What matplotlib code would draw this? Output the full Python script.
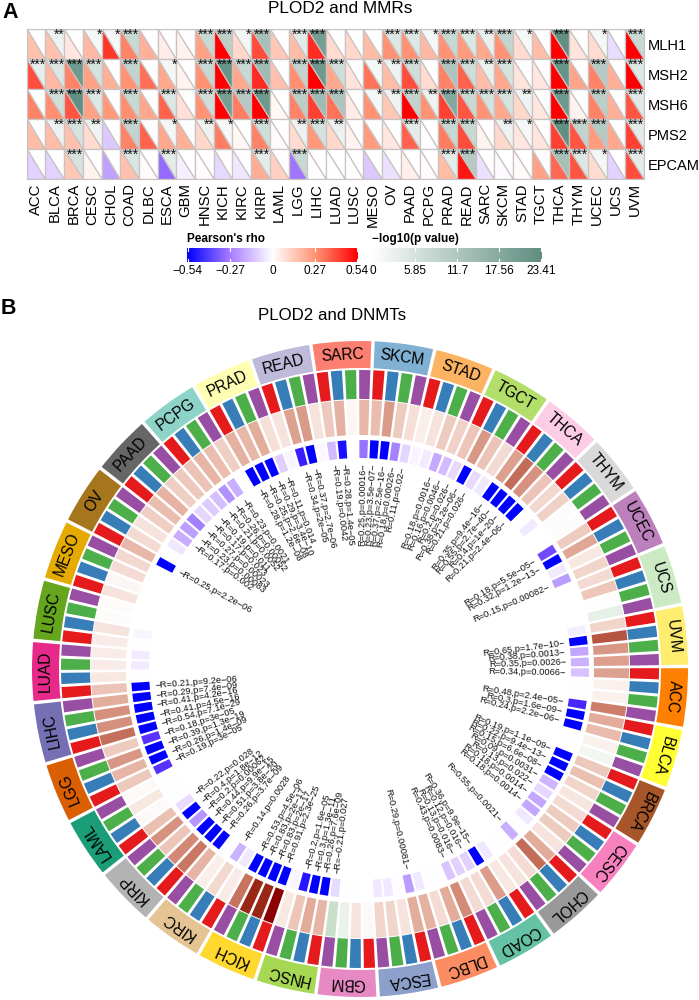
import numpy as np
from matplotlib import pyplot as plt
from matplotlib.colors import LinearSegmentedColormap

plt.rcParams['font.family'] = ['Liberation Sans', 'DejaVu Sans']

W, H = 699, 1000

# panel A
mmr_genes = ['MLH1', 'MSH2', 'MSH6', 'PMS2', 'EPCAM']
mmr_cancers = ['ACC', 'BLCA', 'BRCA', 'CESC', 'CHOL', 'COAD', 'DLBC', 'ESCA', 'GBM',
               'HNSC', 'KICH', 'KIRC', 'KIRP', 'LAML', 'LGG', 'LIHC', 'LUAD', 'LUSC',
               'MESO', 'OV', 'PAAD', 'PCPG', 'PRAD', 'READ', 'SARC', 'SKCM', 'STAD',
               'TGCT', 'THCA', 'THYM', 'UCEC', 'UCS', 'UVM']
mmr_rho = [
    [.16, .40, .30, .17, -.09], [.16, .18, .28, .17, -.09], [.06, .30, .38, .16, .14],
    [.18, .24, .24, .09, .03], [.44, .20, .26, -.11, -.19], [.30, .27, .28, .30, .16],
    [.20, .34, .22, .36, .01], [.05, .22, .36, .22, -.30], [.03, .03, .08, .20, -.03],
    [.24, .27, .27, .10, .01], [.54, .54, .54, .31, -.08], [.10, .22, .31, .02, -.05],
    [.40, .46, .54, .30, .21], [.14, .16, .02, .01, .12], [.17, .28, .30, .09, -.28],
    [.46, .54, .42, .26, .00], [.09, .22, .33, .10, .00], [.10, .07, .05, .03, .00],
    [.17, .33, .27, .25, -.11], [.27, .17, .14, .06, -.06], [.27, .40, .54, .36, .04],
    [.18, .09, .27, .00, .01], [.27, .30, .42, .31, .17], [.25, .36, .38, .40, .50],
    [.22, .17, .27, .03, -.06], [.27, .22, .22, .10, -.01], [.09, .07, .10, .06, .01],
    [.17, .06, .06, .07, .24], [.54, .54, .54, .42, .35], [.07, .23, .03, .38, .38],
    [.09, .30, .30, .25, .09], [-.07, .20, .20, .22, -.09], [.54, .54, .38, .42, .40],
]
mmr_logp = [
    [.3, 3.5, .3, .5, .2], [2.5, 5, 7, 2.5, .3], [.5, 21, 23, 6, 6],
    [1.6, 6, 5, 2.3, .1], [1.5, .3, .2, .1, .3], [8, 9, 8, 9, 5.5],
    [.3, .3, .3, .3, .1], [.3, 1.7, 5, 1.7, 4], [.2, .2, .2, .4, .1],
    [8, 8, 7, 2.5, 0], [10, 22, 20, 1.5, .2], [2, 8, 11, .2, .2],
    [13, 14, 21, 7, 4], [.2, .2, .1, .1, .2], [4, 9, 10, 2.5, 8],
    [20, 21, 14, 6, 0], [.3, 7, 12, 2.7, 0], [.3, .2, .1, .1, 0],
    [.3, 1.6, 1.6, .2, .1], [5, 2.5, 2.5, .1, .2], [5, 7, 9, 4, .1],
    [1.5, .2, 2.5, .1, 0], [8, 12, 18, 8, 4], [5, 7, 8, 8, 11],
    [3, 3, 6, .1, .2], [9, 6, 6, 2.5, .1], [1.5, .5, 2.5, 1.5, 0],
    [.3, .2, .2, .2, .5], [23, 22, 21, 23, 13], [.1, .2, .1, 9, 5],
    [1.6, 11, 10, 11, 1.7], [.1, .2, .2, .3, .1], [8, 5, 4.5, 4, 4],
]
mmr_stars = [
    ['', '***', '', '', ''], ['**', '***', '***', '**', ''], ['', '***', '***', '***', '***'],
    ['*', '***', '***', '**', ''], ['*', '', '', '', ''], ['***', '***', '***', '***', '***'],
    ['', '', '', '', ''], ['', '*', '***', '*', '***'], ['', '', '', '', ''],
    ['***', '***', '***', '**', ''], ['***', '***', '***', '*', ''], ['*', '***', '***', '', ''],
    ['***', '***', '***', '***', '***'], ['', '', '', '', ''], ['***', '***', '***', '**', '***'],
    ['***', '***', '***', '***', ''], ['', '***', '***', '**', ''], ['', '', '', '', ''],
    ['', '*', '*', '', ''], ['***', '**', '**', '', ''], ['***', '***', '***', '***', ''],
    ['*', '', '**', '', ''], ['***', '***', '***', '***', '***'], ['***', '***', '***', '***', '***'],
    ['**', '**', '***', '', ''], ['***', '***', '***', '**', ''], ['*', '', '**', '*', ''],
    ['', '', '', '', ''], ['***', '***', '***', '***', '***'], ['', '', '', '***', '***'],
    ['*', '***', '***', '***', '*'], ['', '', '', '', ''], ['***', '***', '***', '***', '***'],
]
rho_ticks = [-0.54, -0.27, 0, 0.27, 0.54]
logp_ticks = [0, 5.85, 11.7, 17.56, 23.41]

# panel B, clockwise from ACC. each cancer has four tracks
dnmt_cancers = mmr_cancers
cancer_colors = ['#FF7F00', '#FFFF33', '#A65628', '#F781BF', '#999999', '#66C2A5', '#FC8D62',
                 '#8DA0CB', '#E78AC3', '#A6D854', '#FFD92F', '#E5C494', '#B3B3B3', '#1B9E77',
                 '#D95F02', '#7570B3', '#E7298A', '#66A61E', '#E6AB02', '#A6761D', '#666666',
                 '#8DD3C7', '#FFFFB3', '#BEBADA', '#FB8072', '#80B1D3', '#FDB462', '#B3DE69',
                 '#FCCDE5', '#D9D9D9', '#BC80BD', '#CCEBC5', '#FFED6F']
track_colors = ['#E41A1C', '#377EB8', '#4DAF4A', '#984EA3']
dnmt_r = [
    [.34, .05, .05, .48], [.3, .24, .05, -.05], [.19, .22, .15, .09], [.13, .18, .18, .1],
    [.3, .55, .12, .1], [.08, .36, .12, .13], [.43, .3, .12, .28], [.29, .1, .15, .15],
    [.02, .1, -.08, -.21], [.26, .3, .2, .08], [.91, .83, .83, .53], [.07, .14, .06, .26],
    [.51, .44, .2, .4], [.22, .02, .08, .02], [.19, .26, .39, .18], [.54, .41, .41, .29],
    [.21, .08, .07, .07], [.07, .1, .01, .01], [.1, .03, .12, .14], [.25, .13, .1, .17],
    [.23, .27, .17, .19], [.21, .26, .23, .17], [.28, .25, .29, .11], [.1, .34, .37, .1],
    [.19, .28, .03, .25], [.23, .37, .18, .11], [.06, .1, .18, .16], [.2, .38, .21, .13],
    [.35, .55, .4, .21], [.14, .16, .01, .01], [.18, .32, .08, .15], [.13, .2, -.01, -.1],
    [.15, .65, .38, .35],
]
dnmt_p = [
    [.0066, .9, .9, 2.4e-05], [1.6e-09, 2.2e-06, .9, .9], [1.1e-09, 9.4e-13, 6.6e-08, .0031],
    [.022, .0014, .0014, .07], [.8, .0021, .8, .8], [.07, 9.9e-15, .016, .016],
    [.0083, .8, .8, .08], [.00081, .9, .07, .07], [1, .9, .9, .027],
    [7.6e-09, 1.3e-11, 1.6e-05, .3], [2.3e-25, 2e-17, 2e-17, 4.5e-06], [.07, .0028, .8, 3.7e-09],
    [3.8e-20, 9.9e-15, .00062, 1.8e-12], [.028, .9, .9, .9], [3e-05, 1.4e-09, 1.3e-19, 3e-05],
    [7.1e-29, 4.5e-16, 4.2e-16, 7.4e-09], [9.2e-06, .9, .1, .1], [.8, .3, 1, 1],
    [1, 1, 1, 1], [2.2e-06, .9, .07, .002], [.00083, .00023, .023, .011],
    [.0052, .00052, .0021, .9], [1.2e-08, 2.6e-08, 3.4e-10, .014], [.3, 2e-05, 2.7e-06, .4],
    [.0042, 1.4e-05, 1, .00016], [3.5e-07, 2.5e-16, .00026, .02], [.3, .1, .0016, .0046],
    [.026, 3.2e-06, .026, .07], [9.4e-16, 2.7e-40, 1e-20, 2.4e-06], [.9, .08, 1, 1],
    [5.5e-05, 1.2e-13, .09, .00082], [1, 1, 1, 1], [.15, 1.7e-10, .0013, .0026],
]

rho_cmap = LinearSegmentedColormap.from_list(
    'rho', ['#0000FF', '#A77BFF', '#FFFFFF', '#FF9575', '#FF0000'])
logp_cmap = LinearSegmentedColormap.from_list(
    'logp', ['#FFFFFF', '#AFC7BE', '#5F8D80'])
heat_cmap = LinearSegmentedColormap.from_list(
    'heat', [(0, '#006400'), (.5, '#FFFFFF'), (.625, '#E8B8A8'), (.75, '#CB7A66'),
             (.915, '#9A2A18'), (.955, '#8B0000'), (1, '#8B0000')])
pval_cmap = LinearSegmentedColormap.from_list(
    'pval', [(0, '#FFFFFF'), (.26, '#EEE5FF'), (.4, '#DCC8FF'), (.6, '#BFA2FF'),
             (.74, '#A07CFF'), (.9, '#6035FF'), (1, '#0000FF')])


def px_axes(left, top, right, bottom, **kwargs):
    return fig.add_axes([left / W, 1 - bottom / H, (right - left) / W, (bottom - top) / H], **kwargs)


def colorbar(left, right, cmap, ticks, pad, title, title_x):
    ax = px_axes(left, 248, right, 262)
    vmin, vmax = ticks[0] - pad, ticks[-1] + pad
    grad = np.linspace(ticks[0], ticks[-1], 256).reshape(1, -1)
    ax.imshow(grad, cmap=cmap, aspect='auto', extent=[vmin, vmax, 0, 1])
    for t in ticks:
        ax.plot([t, t], [0, .18], color='white', lw=.8)
        ax.plot([t, t], [.82, 1], color='white', lw=.8)
    ax.set_xlim(vmin, vmax)
    ax.set_ylim(0, 1)
    ax.set_yticks([])
    ax.set_xticks(ticks)
    ax.set_xticklabels([str(t).replace('-', '\u2212') for t in ticks], fontsize=8.5)
    ax.tick_params(length=0, pad=2)
    for s in ax.spines.values():
        s.set_visible(False)
    fig.text(title_x / W, 1 - 239 / H, title, fontsize=8.5, fontweight='bold', va='center')


fig = plt.figure(figsize=(W / 100, H / 100), dpi=100)

# A: triangle heatmap
ax = px_axes(26.7, 29, 644, 179)
grid = '#C9C2C2'
for c in range(len(mmr_cancers)):
    for r in range(len(mmr_genes)):
        rho_col = rho_cmap((mmr_rho[c][r] + .54) / 1.08)
        p_col = logp_cmap(mmr_logp[c][r] / 23.41)
        ax.fill([c, c, c + 1], [r, r + 1, r + 1], facecolor=rho_col, edgecolor=grid, lw=.9)
        ax.fill([c, c + 1, c + 1], [r, r, r + 1], facecolor=p_col, edgecolor=grid, lw=.9)
        if mmr_stars[c][r]:
            ax.text(c + 1.02, r - .03, mmr_stars[c][r], ha='right', va='top', fontsize=10,
                    color='#111111')
ax.set_xlim(0, len(mmr_cancers))
ax.set_ylim(len(mmr_genes), 0)
ax.set_xticks(np.arange(len(mmr_cancers)) + .5)
ax.set_xticklabels(mmr_cancers, rotation=90, fontsize=10.7)
ax.yaxis.tick_right()
ax.set_yticks(np.arange(len(mmr_genes)) + .5)
ax.set_yticklabels(mmr_genes, fontsize=10.5)
ax.tick_params(length=0, pad=3)
for s in ax.spines.values():
    s.set_color(grid)

fig.text(340 / W, 1 - 8.5 / H, 'PLOD2 and MMRs', fontsize=12.4, ha='center', va='center')
fig.text(2 / W, 1 - 12 / H, 'A', fontsize=15.5, fontweight='bold', va='center')
fig.text(1 / W, 1 - 309 / H, 'B', fontsize=15.5, fontweight='bold', va='center')
fig.text(332.5 / W, 1 - 315 / H, 'PLOD2 and DNMTs', fontsize=12.2, ha='center', va='center')

colorbar(187, 358, rho_cmap, rho_ticks, .006, "Pearson's rho", 187)
colorbar(372, 542, logp_cmap, logp_ticks, .1, '\u2212log10(p value)', 372)

# B: circular tracks
pax = px_axes(30, 339, 690, 999, projection='polar')
pax.set_theta_zero_location('N')
pax.set_theta_direction(-1)
pax.set_rlim(0, 330)
pax.axis('off')

start = 89.55
step = 360 / 132
tile_w = np.deg2rad(2.15)
for i, name in enumerate(dnmt_cancers):
    mid = start + (i * 4 + 2) * step
    pax.bar(np.deg2rad(mid), 27, width=np.deg2rad(10.3), bottom=301, color=cancer_colors[i], lw=0)
    pax.text(np.deg2rad(mid), 314.5, name, rotation=-mid, rotation_mode='anchor',
             ha='center', va='center', fontsize=11.2)
    for j in range(4):
        deg = start + (i * 4 + j + .5) * step
        th = np.deg2rad(deg)
        pax.bar(th, 29, width=tile_w, bottom=270, color=track_colors[j], lw=0)
        pax.bar(th, 35, width=tile_w, bottom=234, color=heat_cmap((dnmt_r[i][j] + 1) / 2), lw=0)
        pval = dnmt_p[i][j]
        pax.bar(th, 18, width=tile_w, bottom=211,
                color=pval_cmap(min(-np.log10(pval) / 5, 1.0)), lw=0)
        if pval < .05:
            lab = f'R={dnmt_r[i][j]:.2g},p={pval:.2g}'.replace('-', '\u2212')
            if deg % 360 < 180:
                pax.text(th, 206, lab + '\u2212', rotation=90 - deg % 360, rotation_mode='anchor',
                         ha='right', va='center', fontsize=6.7, color='#111111')
            else:
                pax.text(th, 206, '\u2212' + lab, rotation=270 - deg % 360, rotation_mode='anchor',
                         ha='left', va='center', fontsize=6.7, color='#111111')

fig.savefig('out.png', dpi=100)
